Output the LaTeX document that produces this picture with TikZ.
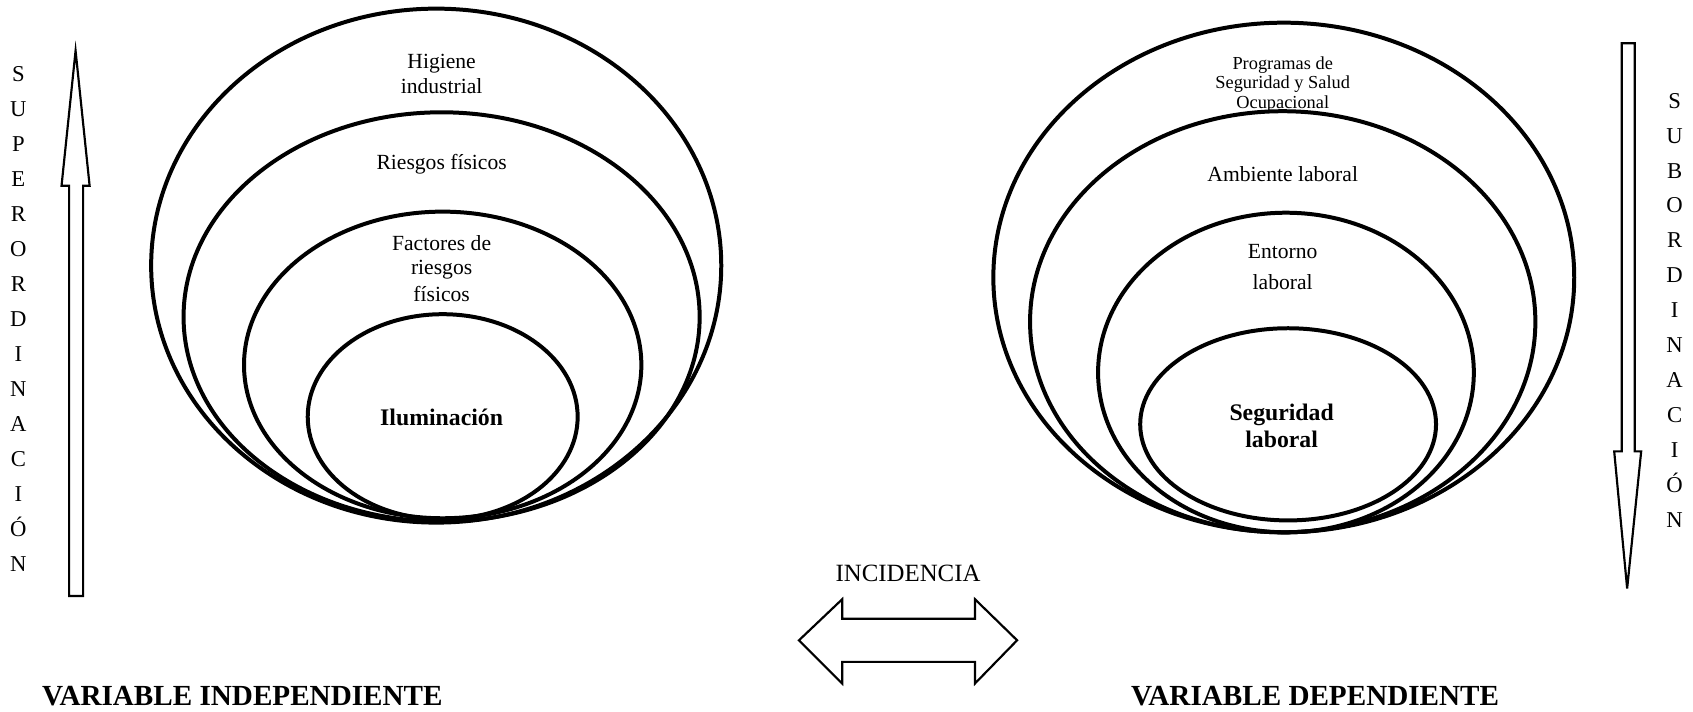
\documentclass[tikz,border=0pt]{standalone}
\usepackage{fontspec}
\setmainfont{Liberation Serif}
\usetikzlibrary{shapes.geometric}
\begin{document}
\begin{tikzpicture}[x=1pt,y=-1pt,
  ring/.style={draw, line width=3.7pt, ellipse, inner sep=0pt, outer sep=0pt},
  shapeline/.style={draw, line width=2pt, line join=miter},
  lbl/.style={align=center, inner sep=0pt, font=\fontsize{20}{23}\selectfont},
  boldlbl/.style={align=center, inner sep=0pt, font=\fontsize{22}{25}\selectfont\bfseries},
  vert/.style={align=center, inner sep=0pt, font=\fontsize{21}{32.4}\selectfont},
  title/.style={inner sep=0pt, font=\fontsize{27}{30}\selectfont\bfseries}]
\useasboundingbox (0,0) rectangle (1568,659);
% left group
\node[ring, minimum width=528pt, minimum height=476pt] (L1) at (404,246) {};
\node[ring, minimum width=478pt, minimum height=379pt] (L2) at (409,293.5) {};
\node[ring, minimum width=368pt, minimum height=284pt] (L3) at (410,338) {};
\node[ring, minimum width=250pt, minimum height=190pt] (L4) at (410,386) {};
\node[lbl] (t1) at (409,68.5) {Higiene\\industrial};
\node[lbl] (t2) at (409,152) {Riesgos físicos};
\node[lbl, font=\fontsize{20}{22}\selectfont] (t3) at (409,249) {Factores de\\riesgos\\[3pt]físicos};
\node[boldlbl] (t4) at (409,387) {Iluminación};
% right group
\node[ring, minimum width=538pt, minimum height=472pt] (R1) at (1189,257) {};
\node[ring, minimum width=468pt, minimum height=390pt] (R2) at (1188,298) {};
\node[ring, minimum width=348pt, minimum height=296pt] (R3) at (1191,345) {};
\node[ring, minimum width=274pt, minimum height=178pt] (R4) at (1193,393) {};
\node[lbl, font=\fontsize{17}{18}\selectfont] (s1) at (1188,78) {Programas de\\Seguridad y Salud\\Ocupacional};
\node[lbl] (s2) at (1188,161) {Ambiente laboral};
\node[lbl, font=\fontsize{20}{29}\selectfont] (s3) at (1188,247.5) {Entorno\\laboral};
\node[boldlbl] (s4) at (1187,394.5) {Seguridad\\laboral};
% left arrow
\draw[shapeline] (70,47) -- (83,172) -- (77,172) -- (77,552) -- (64,552) -- (64,172) -- (57,172) -- cycle;
\node[vert] (sup) at (17,295.5) {S\\U\\P\\E\\R\\O\\R\\D\\I\\N\\A\\C\\I\\Ó\\N};
% right arrow
\draw[shapeline] (1502,40) -- (1514,40) -- (1514,418) -- (1520,418) -- (1507,545) -- (1495,418) -- (1502,418) -- cycle;
\node[vert] (sub) at (1551,287.5) {S\\U\\B\\O\\R\\D\\I\\N\\A\\C\\I\\Ó\\N};
% incidence
\node[inner sep=0pt, font=\fontsize{23}{26}\selectfont] (inc) at (841,531) {INCIDENCIA};
\draw[shapeline] (740,593) -- (780,555) -- (780,573) -- (903,573) -- (903,555) -- (942,593) -- (903,633) -- (903,613) -- (780,613) -- (780,633) -- cycle;
% titles
\node[title] (vi) at (224.5,645) {VARIABLE INDEPENDIENTE};
\node[title] (vd) at (1218,645) {VARIABLE DEPENDIENTE};
\end{tikzpicture}
\end{document}
